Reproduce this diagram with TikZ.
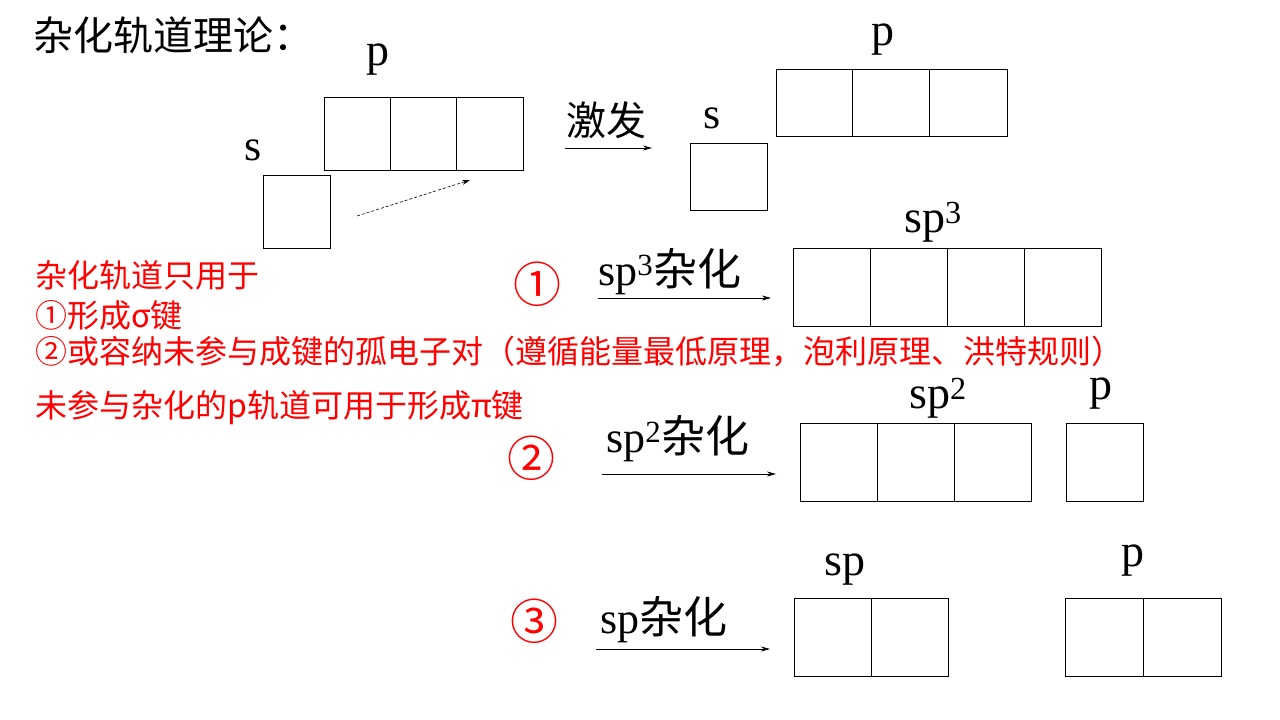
\documentclass[tikz,border=0pt]{standalone}
\usepackage{fontspec}
\setmainfont{Liberation Serif}
\newfontfamily\cjk{Noto Sans CJK SC}
\usetikzlibrary{arrows.meta,positioning}

\tikzset{
  orb/.style={draw, line width=0.8pt, inner sep=0pt, outer sep=0pt, minimum width=77pt, minimum height=78pt, anchor=north west},
  lbl/.style={font=\fontsize{46}{50}\selectfont, inner sep=0pt},
  hyb/.style={font=\fontsize{44}{48}\selectfont, inner sep=0pt, anchor=base west},
  note/.style={font=\cjk\fontsize{32}{36}\selectfont, text=red, inner sep=0pt, anchor=west},
  num/.style={font=\cjk\fontsize{48}{52}\selectfont, text=red, inner sep=0pt},
  rxn/.style={-{Stealth[length=9pt,width=5pt]}, line width=0.7pt},
}

\begin{document}
\begin{tikzpicture}[x=1pt, y=-1pt]
\useasboundingbox (0,0) rectangle (1280,720);

\node[font=\cjk\fontsize{40}{44}\selectfont, inner sep=0pt, anchor=west] (title) at (33,35) {杂化轨道理论：};

% ground state
\node[orb, minimum width=67pt, minimum height=73pt] (s0) at (263,175) {};
\node[orb, minimum width=66.3pt, minimum height=73pt] (p0a) at (324,97) {};
\node[orb, minimum width=66.3pt, minimum height=73pt, right=0pt of p0a] (p0b) {};
\node[orb, minimum width=66.3pt, minimum height=73pt, right=0pt of p0b] (p0c) {};
\node[lbl, font=\fontsize{44}{48}\selectfont] (s0l) at (253,150) {s};
\node[lbl] (p0l) at (378,60) {p};
\coordinate (d1) at (357,216);
\coordinate (d2) at (470,180);
\draw[dashed, dash pattern=on 3pt off 2pt, -{Stealth[length=8pt,width=5pt]}, line width=0.6pt] (d1) -- (d2);

% excited state
\node[font=\cjk\fontsize{40}{44}\selectfont, inner sep=0pt] (exc) at (606,120) {激发};
\coordinate (e1) at (565,148);
\coordinate (e2) at (652,148);
\draw[rxn] (e1) -- (e2);
\node[orb, minimum height=67pt] (s1) at (690,143) {};
\node[lbl, font=\fontsize{44}{48}\selectfont] (s1l) at (712,118) {s};
\node[orb, minimum width=76pt, minimum height=67pt] (p1a) at (776,69) {};
\node[orb, minimum height=67pt, right=0pt of p1a] (p1b) {};
\node[orb, minimum width=78pt, minimum height=67pt, right=0pt of p1b] (p1c) {};
\node[lbl] (p1l) at (883,40) {p};

% notes
\node[note] (n1) at (35,275) {杂化轨道只用于};
\node[note] (n2) at (35,315) {①形成σ键};
\node[note] (n3) at (35,352) {②或容纳未参与成键的孤电子对（遵循能量最低原理，泡利原理、洪特规则）};
\node[note] (n4) at (35,408) {未参与杂化的p轨道可用于形成π键};

% sp3
\node[num] (c1) at (537,284) {①};
\node[hyb] (h1) at (598,285) {sp\textsuperscript{3}{\cjk 杂化}};
\coordinate (a1) at (598,298);
\coordinate (b1) at (771,298);
\draw[rxn] (a1) -- (b1);
\node[orb] (q1) at (793,248) {};
\node[orb, right=0pt of q1] (q2) {};
\node[orb, right=0pt of q2] (q3) {};
\node[orb, right=0pt of q3] (q4) {};
\node[lbl] (q1l) at (933,222) {sp\textsuperscript{3}};

% sp2
\node[num] (c2) at (531,458) {②};
\node[hyb] (h2) at (606,452) {sp\textsuperscript{2}{\cjk 杂化}};
\coordinate (a2) at (602,474);
\coordinate (b2) at (776,474);
\draw[rxn] (a2) -- (b2);
\node[orb] (r1) at (800,423) {};
\node[orb, right=0pt of r1] (r2) {};
\node[orb, right=0pt of r2] (r3) {};
\node[orb] (r4) at (1066,423) {};
\node[lbl] (r1l) at (938,398) {sp\textsuperscript{2}};
\node[lbl] (r4l) at (1101,394) {p};

% sp
\node[num] (c3) at (534,621) {③};
\node[hyb] (h3) at (600,633) {sp{\cjk 杂化}};
\coordinate (a3) at (596,649);
\coordinate (b3) at (770,649);
\draw[rxn] (a3) -- (b3);
\node[orb] (t1) at (794,598) {};
\node[orb, right=0pt of t1] (t2) {};
\node[orb, minimum width=78pt] (t3) at (1065,598) {};
\node[orb, minimum width=78pt, right=0pt of t3] (t4) {};
\node[lbl] (t1l) at (845,570) {sp};
\node[lbl] (t3l) at (1133,561) {p};
\end{tikzpicture}
\end{document}
